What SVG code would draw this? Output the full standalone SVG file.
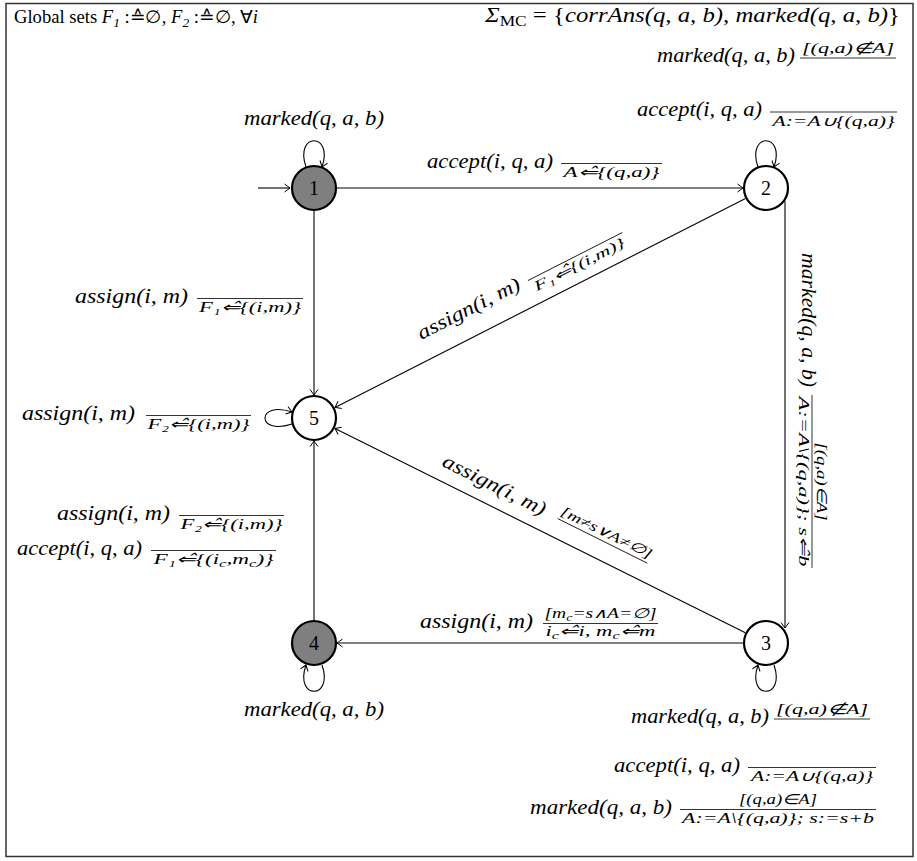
<svg xmlns="http://www.w3.org/2000/svg" width="917" height="861" viewBox="0 0 917 861">
<defs>
<style>
.m{font-family:"Liberation Serif",serif;font-style:italic;font-size:20px;fill:#000}
.s{font-family:"Liberation Serif",serif;font-style:italic;font-size:14px;fill:#000}
.t{font-family:"Liberation Serif",serif;font-size:18px;fill:#000}
.u{font-style:normal}
.c{text-anchor:middle}
.bar{stroke:#000;stroke-width:0.8}
.e{fill:none;stroke:#000;stroke-width:1.1;marker-end:url(#ah)}
.n circle{stroke:#000;stroke-width:2.2}
.n text{font-family:"Liberation Serif",serif;font-size:20px;text-anchor:middle;fill:#000}
</style>
<marker id="ah" viewBox="-7 -5 8 10" refX="0" refY="0" markerWidth="8" markerHeight="10" orient="auto" markerUnits="userSpaceOnUse">
<path d="M -5.5 -4 Q -1.5 -1 0 0 Q -1.5 1 -5.5 4" fill="none" stroke="#000" stroke-width="1"/>
</marker>
</defs>
<rect x="0" y="0" width="917" height="861" fill="#fff"/>
<rect x="6" y="3.5" width="907" height="853" fill="none" stroke="#333" stroke-width="1.5"/>

<g id="connectors">
<path class="e" d="M 258 188 L 290 188"/>
<path class="e" d="M 336 188 L 743 188"/>
<path class="e" d="M 314 211 L 314 395"/>
<path class="e" d="M 314 620 L 314 441" stroke-width="1.8"/>
<path class="e" d="M 743 643 L 337 643"/>
<path class="e" d="M 785 201 L 785 628"/>
<path class="e" d="M 745.5 198.4 L 335 407.4"/>
<path class="e" d="M 745.4 632.8 L 335 428.4"/>
<path class="e" d="M 306 167 C 294 132, 334 132, 322 167"/>
<path class="e" d="M 758 167 C 746 132, 786 132, 774 167"/>
<path class="e" d="M 292 424 C 256 436, 256 400, 292 412"/>
<path class="e" d="M 322 665 C 334 700, 294 700, 306 665"/>
<path class="e" d="M 774 665 C 786 700, 746 700, 758 665"/>
</g>

<g id="node1" class="n"><circle cx="314" cy="188" r="22" fill="#7f7f7f"/><text x="314" y="195">1</text></g>
<g id="node2" class="n"><circle cx="766" cy="188" r="22" fill="#fff"/><text x="766" y="195">2</text></g>
<g id="node3" class="n"><circle cx="766" cy="643" r="22" fill="#fff"/><text x="766" y="650">3</text></g>
<g id="node4" class="n"><circle cx="314" cy="643" r="22" fill="#7f7f7f"/><text x="314" y="650">4</text></g>
<g id="node5" class="n"><circle cx="314" cy="418" r="22" fill="#fff"/><text x="314" y="425">5</text></g>

<g id="labels">
<text class="t" x="14" y="23" textLength="244" lengthAdjust="spacingAndGlyphs">Global sets <tspan font-style="italic">F</tspan><tspan font-style="italic" font-size="13" dy="4">1</tspan><tspan dy="-4"> :≙∅, </tspan><tspan font-style="italic">F</tspan><tspan font-style="italic" font-size="13" dy="4">2</tspan><tspan dy="-4"> :≙∅, ∀</tspan><tspan font-style="italic">i</tspan></text>
<text class="m" x="485" y="22" textLength="415" lengthAdjust="spacingAndGlyphs">Σ<tspan class="u" font-size="14" dy="4">MC</tspan><tspan class="u" dy="-4"> = {</tspan>corrAns(q, a, b), marked(q, a, b)<tspan class="u">}</tspan></text>

<text class="m" x="657" y="62" textLength="138" lengthAdjust="spacingAndGlyphs">marked(q, a, b)</text>
<text class="s c" x="848" y="53" textLength="92" lengthAdjust="spacingAndGlyphs">[(q,a)∉A]</text>
<line class="bar" x1="800" y1="58" x2="896" y2="58"/>

<text class="m c" x="314" y="125" textLength="140" lengthAdjust="spacingAndGlyphs">marked(q, a, b)</text>

<text class="m" x="637" y="116" textLength="125" lengthAdjust="spacingAndGlyphs">accept(i, q, a)</text>
<line class="bar" x1="770" y1="112" x2="897" y2="112"/>
<text class="s c" x="833.5" y="126" textLength="122" lengthAdjust="spacingAndGlyphs">A:=A∪{(q,a)}</text>

<text class="m" x="427" y="168" textLength="126" lengthAdjust="spacingAndGlyphs">accept(i, q, a)</text>
<line class="bar" x1="561" y1="163.5" x2="662" y2="163.5"/>
<text class="s c" x="611.5" y="177" textLength="96" lengthAdjust="spacingAndGlyphs">A⇐̂{(q,a)}</text>

<text class="m" x="75" y="303" textLength="113" lengthAdjust="spacingAndGlyphs">assign(i, m)</text>
<line class="bar" x1="197" y1="298.5" x2="303" y2="298.5"/>
<text class="s c" x="250" y="312" textLength="102" lengthAdjust="spacingAndGlyphs">F₁⇐̂{(i,m)}</text>

<text class="m" x="22" y="420" textLength="113" lengthAdjust="spacingAndGlyphs">assign(i, m)</text>
<line class="bar" x1="146" y1="415.5" x2="251" y2="415.5"/>
<text class="s c" x="198.5" y="429" textLength="102" lengthAdjust="spacingAndGlyphs">F₂⇐̂{(i,m)}</text>

<text class="m" x="57" y="520" textLength="113" lengthAdjust="spacingAndGlyphs">assign(i, m)</text>
<line class="bar" x1="179" y1="515.5" x2="284" y2="515.5"/>
<text class="s c" x="231.5" y="529" textLength="102" lengthAdjust="spacingAndGlyphs">F₂⇐̂{(i,m)}</text>

<text class="m" x="17" y="555" textLength="125" lengthAdjust="spacingAndGlyphs">accept(i, q, a)</text>
<line class="bar" x1="151" y1="550.5" x2="276" y2="550.5"/>
<text class="s c" x="213.5" y="564" textLength="120" lengthAdjust="spacingAndGlyphs">F₁⇐̂{(i<tspan font-size="10" dy="3">c</tspan><tspan dy="-3">,m</tspan><tspan font-size="10" dy="3">c</tspan><tspan dy="-3">)}</tspan></text>

<text class="m" x="420" y="628" textLength="113" lengthAdjust="spacingAndGlyphs">assign(i, m)</text>
<line class="bar" x1="543" y1="623.5" x2="658" y2="623.5"/>
<text class="s c" x="600.5" y="618" textLength="112" lengthAdjust="spacingAndGlyphs">[m<tspan font-size="10" dy="3">c</tspan><tspan dy="-3">=s∧A=∅]</tspan></text>
<text class="s c" x="600.5" y="636" textLength="110" lengthAdjust="spacingAndGlyphs">i<tspan font-size="10" dy="3">c</tspan><tspan dy="-3">⇐̂i, m</tspan><tspan font-size="10" dy="3">c</tspan><tspan dy="-3">⇐̂m</tspan></text>

<text class="m c" x="314" y="716" textLength="140" lengthAdjust="spacingAndGlyphs">marked(q, a, b)</text>

<text class="m" x="631" y="723" textLength="138" lengthAdjust="spacingAndGlyphs">marked(q, a, b)</text>
<text class="s c" x="822" y="714" textLength="92" lengthAdjust="spacingAndGlyphs">[(q,a)∉A]</text>
<line class="bar" x1="774" y1="719" x2="870" y2="719"/>

<text class="m" x="614" y="772" textLength="126" lengthAdjust="spacingAndGlyphs">accept(i, q, a)</text>
<line class="bar" x1="748" y1="767.5" x2="876" y2="767.5"/>
<text class="s c" x="812" y="781" textLength="122" lengthAdjust="spacingAndGlyphs">A:=A∪{(q,a)}</text>

<text class="m" x="530" y="814" textLength="142" lengthAdjust="spacingAndGlyphs">marked(q, a, b)</text>
<line class="bar" x1="680" y1="809.5" x2="876" y2="809.5"/>
<text class="s c" x="778" y="804" textLength="78" lengthAdjust="spacingAndGlyphs">[(q,a)∈A]</text>
<text class="s c" x="778" y="823" textLength="192" lengthAdjust="spacingAndGlyphs">A:=A\{(q,a)}; s:=s+b</text>

<g transform="translate(785,201) rotate(90)">
<text class="m" x="52" y="-17" textLength="134" lengthAdjust="spacingAndGlyphs">marked(q, a, b)</text>
<line class="bar" x1="194" y1="-27" x2="367" y2="-27"/>
<text class="s c" x="280.5" y="-31.5" textLength="78" lengthAdjust="spacingAndGlyphs">[(q,a)∈A]</text>
<text class="s c" x="280.5" y="-14" textLength="170" lengthAdjust="spacingAndGlyphs">A:=A\{(q,a)}; s⇐̂b</text>
</g>

<g transform="translate(334.5,407.6) rotate(-26.97)">
<text class="m" x="108" y="-21" textLength="113" lengthAdjust="spacingAndGlyphs">assign(i, m)</text>
<line class="bar" x1="230" y1="-25.5" x2="336" y2="-25.5"/>
<text class="s c" x="283" y="-12" textLength="100" lengthAdjust="spacingAndGlyphs">F₁⇐̂{(i,m)}</text>
</g>

<g transform="translate(334.6,428.2) rotate(26.46)">
<text class="m" x="112" y="-14" textLength="113" lengthAdjust="spacingAndGlyphs">assign(i, m)</text>
<text class="s c" x="290" y="-23" textLength="100" lengthAdjust="spacingAndGlyphs">[m≠s∨A≠∅]</text>
<line class="bar" x1="240" y1="-18.5" x2="340" y2="-18.5"/>
</g>
</g>
</svg>
